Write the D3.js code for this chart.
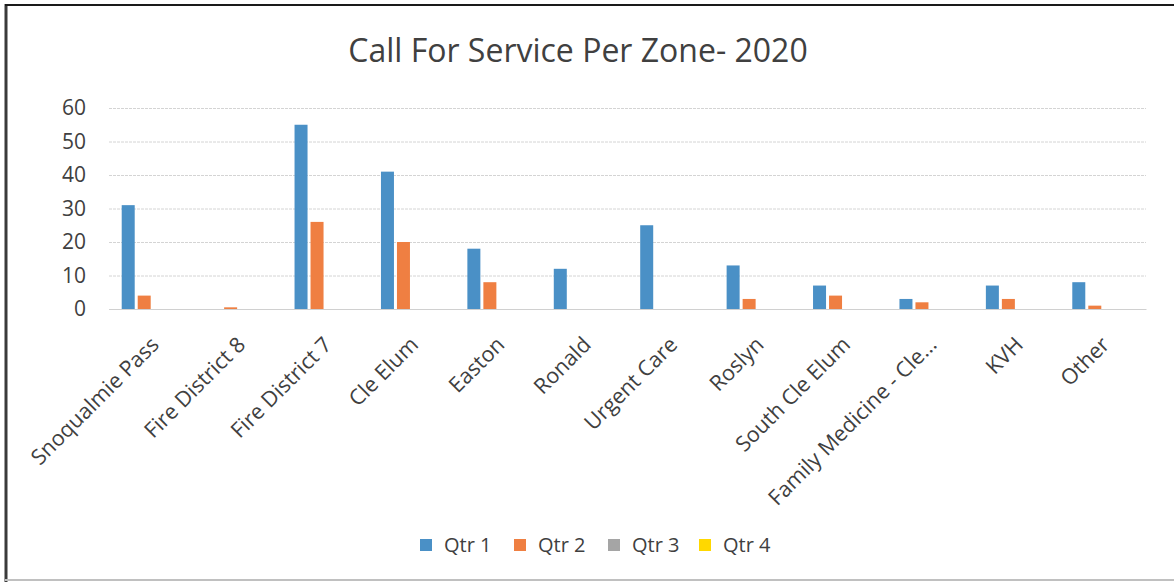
<!DOCTYPE html>
<html><head><meta charset="utf-8">
<script src="https://cdn.jsdelivr.net/npm/d3@7"></script>
<style>body{margin:0;background:#fff}svg{display:block}text{font-family:"Open Sans",sans-serif;fill:#404040}</style>
</head><body><svg id="c" width="1174" height="582"></svg>
<script>
const categories = ["Snoqualmie Pass","Fire District 8","Fire District 7","Cle Elum","Easton","Ronald","Urgent Care","Roslyn","South Cle Elum","Family Medicine - Cle...","KVH","Other"];
const seriesNames = ["Qtr 1","Qtr 2","Qtr 3","Qtr 4"];
const qtr1 = [31,0,55,41,18,12,25,13,7,3,7,8];
const qtr2 = [4,0.5,26,20,8,0,0,3,4,2,3,1];
const qtr3 = [0,0,0,0,0,0,0,0,0,0,0,0];
const qtr4 = [0,0,0,0,0,0,0,0,0,0,0,0];
const yTicks = [0,10,20,30,40,50,60];
const colors = ["#4a90c6","#ef7f42","#a5a5a5","#ffd800"];

const series = [qtr1,qtr2,qtr3,qtr4];
const svg = d3.select("#c");
const mLeft = 109, mRight = 1146, mTop = 108, mBottom = 309;

// frame
svg.append("line").attr("x1",6).attr("x2",6).attr("y1",4).attr("y2",582).attr("stroke","#3a3a3a").attr("stroke-width",3);
svg.append("line").attr("x1",5).attr("x2",1174).attr("y1",5).attr("y2",5).attr("stroke","#1a1a1a").attr("stroke-width",2);
svg.append("line").attr("x1",5).attr("x2",1174).attr("y1",580).attr("y2",580).attr("stroke","#c0c0c0").attr("stroke-width",2);

svg.append("text").attr("x",578).attr("y",62).attr("text-anchor","middle").style("font-size","32px").text("Call For Service Per Zone- 2020");

const x = d3.scaleBand().domain(categories).range([mLeft,mRight]);
const x1 = d3.scaleBand().domain(seriesNames).range([0,x.bandwidth()]).paddingInner(0.1875).paddingOuter(0.794);
const y = d3.scaleLinear().domain([0,60]).range([mBottom,mTop]);

const yAxis = svg.append("g").attr("transform",`translate(${mLeft},0)`)
  .call(d3.axisLeft(y).tickValues(yTicks).tickSize(-(mRight-mLeft)).tickPadding(23));
yAxis.select(".domain").remove();
yAxis.selectAll(".tick line").attr("stroke","#d4d4d4").attr("stroke-dasharray","3,1");
yAxis.selectAll("text").style("font-size","21px").style("fill","#404040").style("font-family","Open Sans");

const groups = svg.append("g").selectAll("g").data(categories).join("g")
  .attr("transform",d=>`translate(${x(d)},0)`);
groups.selectAll("rect").data((d,i)=>series.map((s,j)=>({k:seriesNames[j],v:s[i],c:colors[j]})).filter(e=>e.v>0))
  .join("rect").attr("x",e=>x1(e.k)).attr("width",x1.bandwidth())
  .attr("y",e=>y(e.v)).attr("height",e=>y(0)-y(e.v)).attr("fill",e=>e.c);

const xAxis = svg.append("g").attr("transform",`translate(0,${mBottom})`)
  .call(d3.axisBottom(x).tickSize(0).tickPadding(0));
xAxis.select(".domain").attr("stroke","#d0d0d0");
xAxis.selectAll("text").attr("text-anchor","end").attr("dy","0").attr("y",0)
  .attr("transform","translate(8,37) rotate(-45)")
  .style("font-size","21.5px").style("fill","#404040").style("font-family","Open Sans");

const legendX = [420,514,608,699];
const lg = svg.append("g").selectAll("g").data(seriesNames).join("g")
  .attr("transform",(d,i)=>`translate(${legendX[i]},539)`);
lg.append("rect").attr("width",12).attr("height",12).attr("fill",(d,i)=>colors[i]);
lg.append("text").attr("x",24).attr("y",13).style("font-size","20px").text(d=>d);
</script></body></html>
